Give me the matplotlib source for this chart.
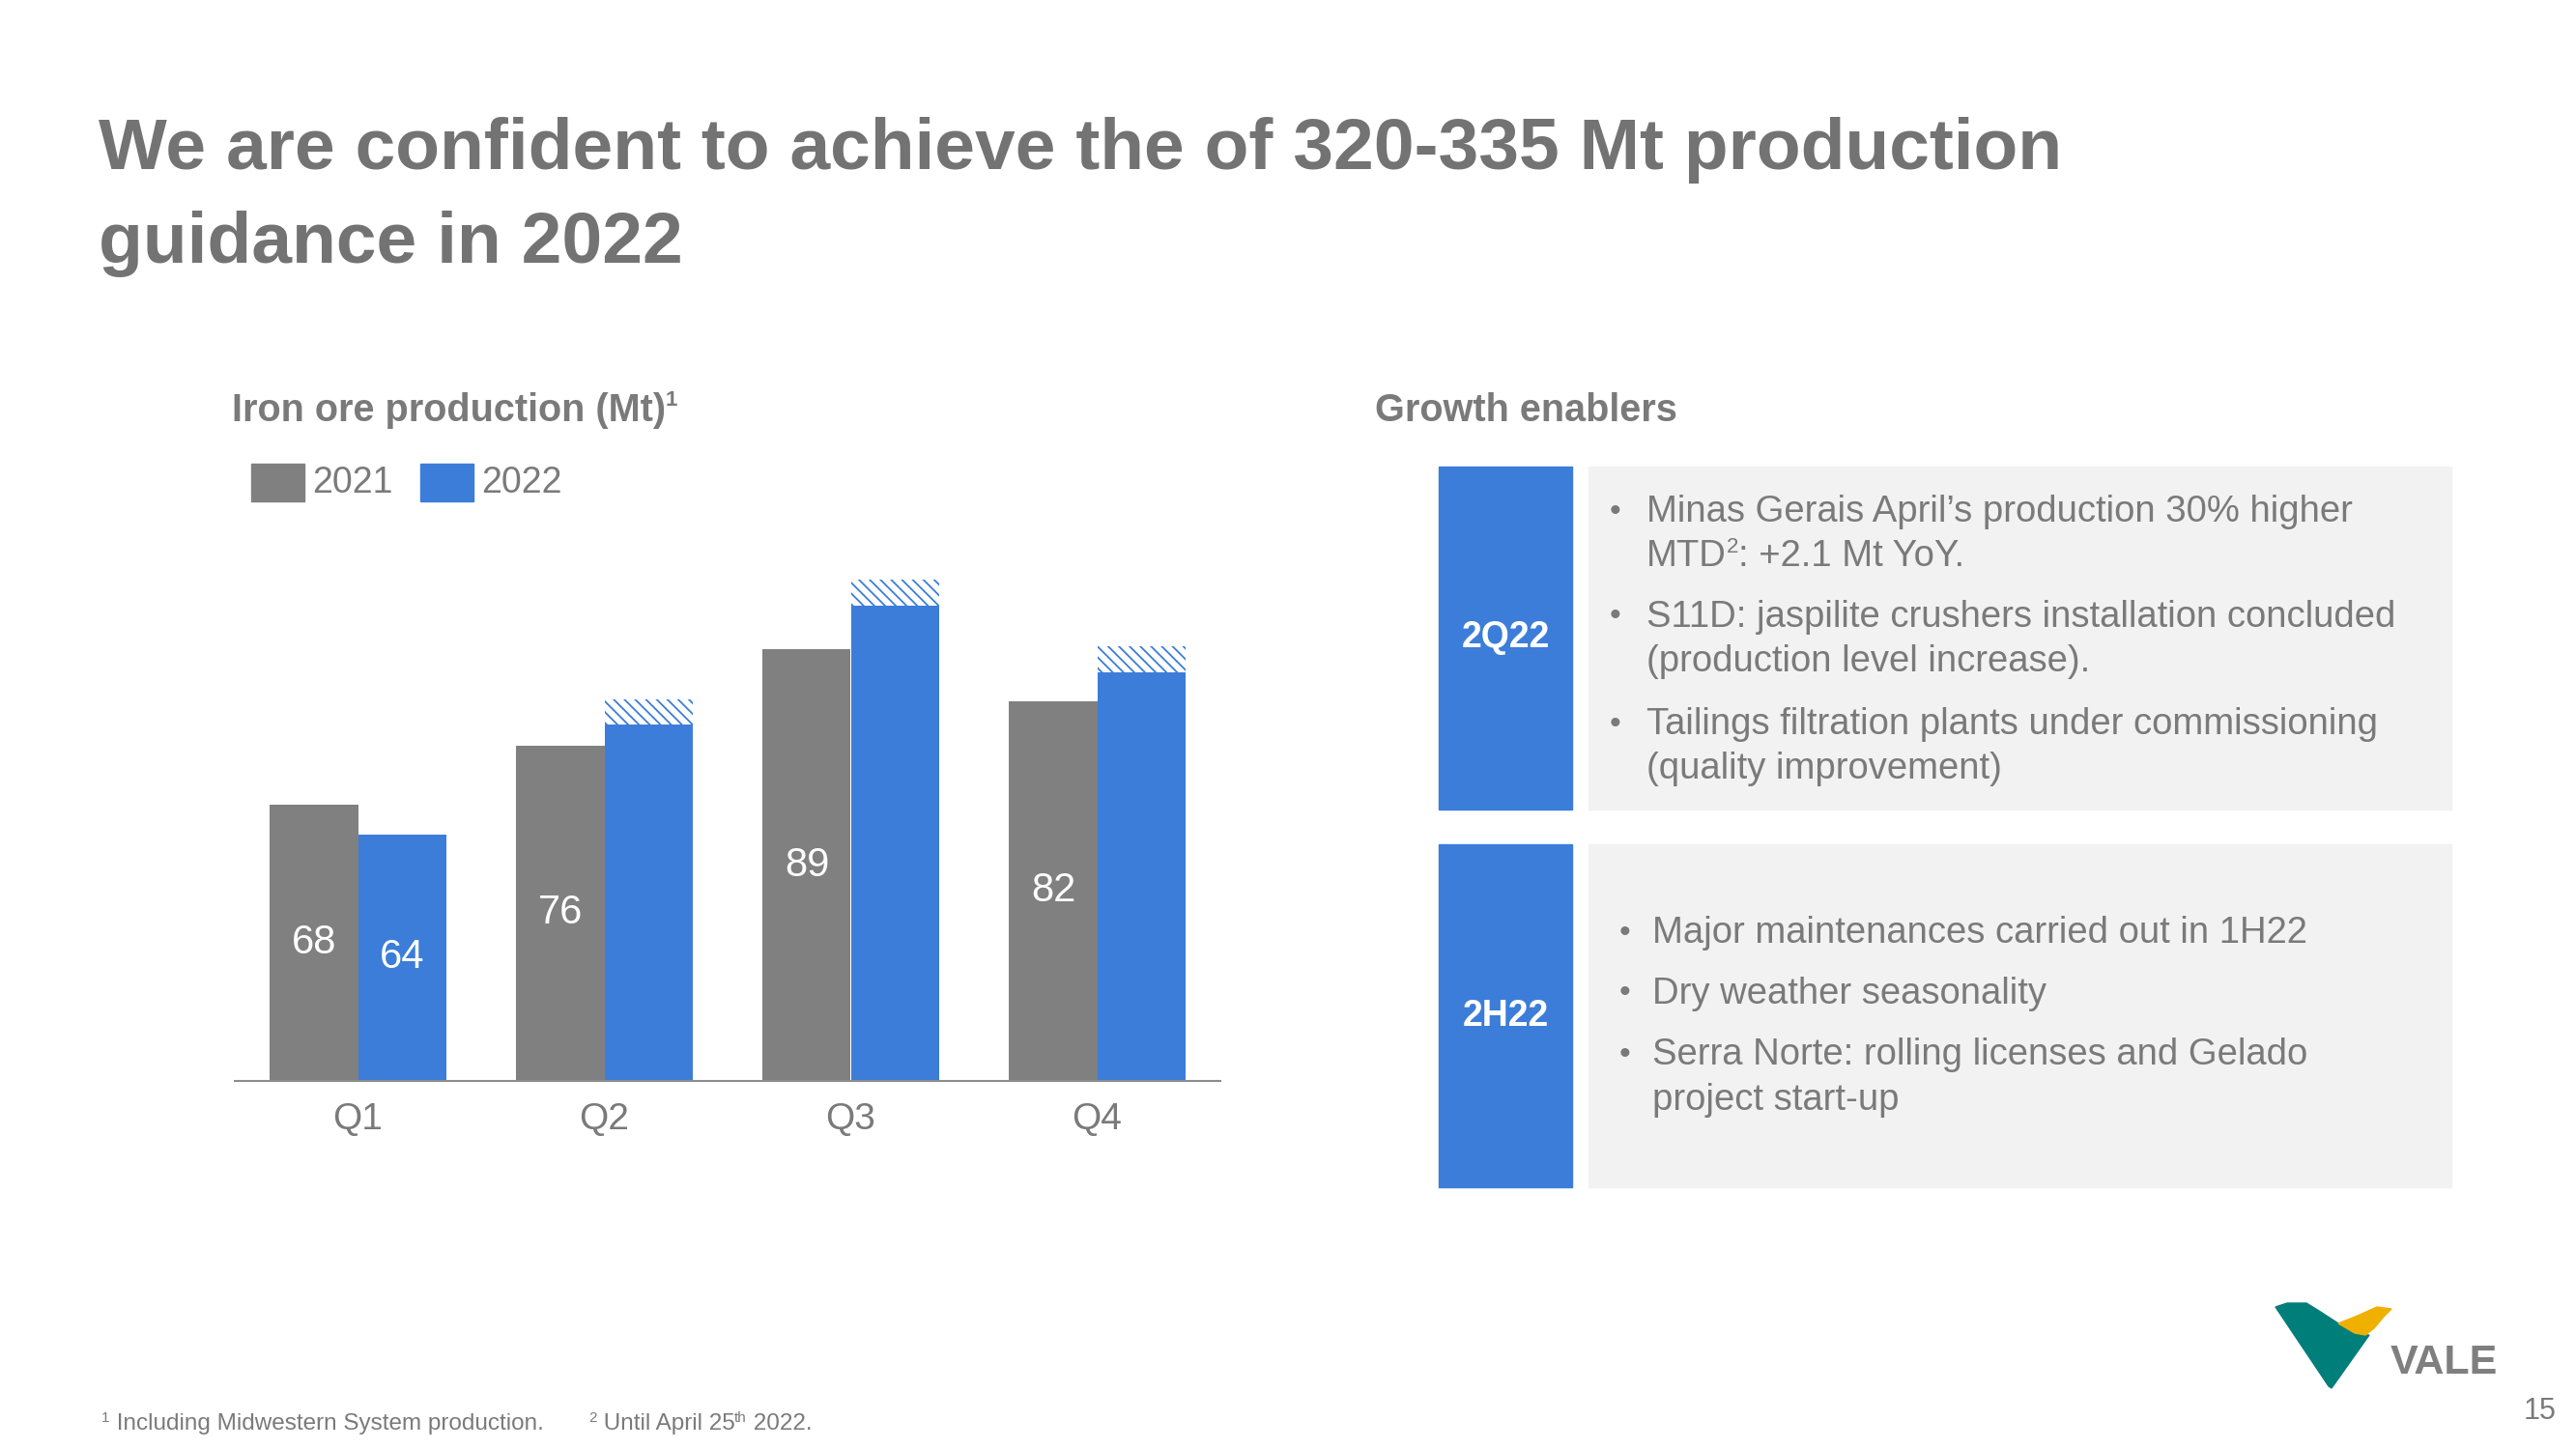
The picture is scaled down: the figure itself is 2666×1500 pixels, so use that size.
import matplotlib
matplotlib.use('Agg')
import matplotlib.pyplot as plt
from matplotlib.patches import Rectangle, Polygon

# chart data
quarters = ['Q1', 'Q2', 'Q3', 'Q4']
prod_2021 = [68, 76, 89, 82]
prod_2022 = [64, 78.8, 94.9, 85.9]
guidance_extra = [0, 3.5, 3.5, 3.5]
labels_2021 = ['68', '76', '89', '82']
labels_2022 = ['64', '', '', '']
years = ['2021', '2022']

bullets_2q22 = [
    ['Minas Gerais April\u2019s production 30% higher', 'MTD'],
    ['S11D: jaspilite crushers installation concluded', '(production level increase).'],
    ['Tailings filtration plants under commissioning', '(quality improvement)'],
]
bullets_2h22 = [
    ['Major maintenances carried out in 1H22'],
    ['Dry weather seasonality'],
    ['Serra Norte: rolling licenses and Gelado', 'project start-up'],
]

GRAY = '#808080'
BLUE = '#3c7dd9'
TXT = '#7a7a7a'
FAM = ['Liberation Sans', 'DejaVu Sans']
plt.rcParams['font.family'] = FAM
plt.rcParams['hatch.linewidth'] = 1.3

fig = plt.figure(figsize=(26.66, 15), dpi=100)
lay = fig.add_axes([0, 0, 1, 1])
lay.set_xlim(0, 2666)
lay.set_ylim(1500, 0)
lay.axis('off')
renderer = fig.canvas.get_renderer()


def run(x, y, parts, va='center'):
    # draw text pieces one after another, returns end x
    for s, size, dy, kw in parts:
        t = lay.text(x, y + dy, s, fontsize=size, va=va, ha='left', **kw)
        bb = t.get_window_extent(renderer)
        x = bb.x1
    return x


# title
lay.text(102, 175, 'We are confident to achieve the of 320-335 Mt production',
         fontsize=54, weight='bold', color='#737373', va='baseline')
lay.text(102, 272, 'guidance in 2022',
         fontsize=54, weight='bold', color='#737373', va='baseline')

# left header + legend
run(240, 425, [('Iron ore production (Mt)', 28.5, 0, dict(weight='bold', color=TXT)),
               ('1', 16, -11, dict(weight='bold', color=TXT))])
lay.add_patch(Rectangle((260, 480), 55, 39, color=GRAY))
lay.text(323, 500, years[0], fontsize=27, color=TXT, va='center')
lay.add_patch(Rectangle((435, 480), 55, 39, color=BLUE))
lay.text(498, 500, years[1], fontsize=27, color=TXT, va='center')

# bar chart
ax = fig.add_axes([243 / 2666, (1500 - 1119) / 1500, 1020 / 2666, 531 / 1500])
ax.patch.set_alpha(0)
x = list(range(len(quarters)))
w = 0.357
x1 = [i - w / 2 for i in x]
x2 = [i + w / 2 for i in x]
ax.bar(x1, prod_2021, w, color=GRAY)
ax.bar(x2, prod_2022, w, color=BLUE)
ax.bar(x2, guidance_extra, w, bottom=prod_2022, facecolor='white',
       edgecolor=BLUE, hatch='\\\\\\', linewidth=0)
ax.set_ylim(30.7, 100)
ax.set_xlim(-0.5, 3.5)
for i in x:
    ax.text(x1[i], (30.7 + prod_2021[i]) / 2, labels_2021[i], color='white',
            fontsize=30, ha='center', va='center')
    if labels_2022[i]:
        ax.text(x2[i], (30.7 + prod_2022[i]) / 2, labels_2022[i], color='white',
                fontsize=30, ha='center', va='center')
for s in ['top', 'right', 'left']:
    ax.spines[s].set_visible(False)
ax.spines['bottom'].set_color('#8c8c8c')
ax.spines['bottom'].set_linewidth(1.5)
ax.set_yticks([])
ax.set_xticks(x)
ax.set_xticklabels(quarters, fontsize=28, color=TXT)
ax.tick_params(axis='x', length=0, pad=16)

# right side
lay.text(1423, 425, 'Growth enablers', fontsize=28.5, weight='bold', color=TXT, va='center')
for (y0, y1), tag in [((483, 838), '2Q22'), ((874, 1229), '2H22')]:
    lay.add_patch(Rectangle((1489, y0), 138, y1 - y0, color=BLUE))
    lay.add_patch(Rectangle((1644, y0), 893, y1 - y0, color='#f2f2f2'))
    lay.text(1558, (y0 + y1) / 2, tag, fontsize=27, weight='bold', color='white',
             ha='center', va='center')

ys1 = [[530, 576], [639, 685], [750, 796]]
for lines, ys in zip(bullets_2q22, ys1):
    lay.text(1666, ys[0], '\u2022', fontsize=24, color=TXT, va='center')
    lay.text(1704, ys[0], lines[0], fontsize=27.5, color=TXT, va='center')
    if lines[1] == 'MTD':
        run(1704, ys[1], [('MTD', 27.5, 0, dict(color=TXT)),
                          ('2', 16, -9, dict(color=TXT)),
                          (': +2.1 Mt YoY.', 27.5, 0, dict(color=TXT))])
    else:
        lay.text(1704, ys[1], lines[1], fontsize=27.5, color=TXT, va='center')

ys2 = [[966], [1029], [1092, 1139]]
for lines, ys in zip(bullets_2h22, ys2):
    lay.text(1676, ys[0], '\u2022', fontsize=24, color=TXT, va='center')
    for s, yy in zip(lines, ys):
        lay.text(1710, yy, s, fontsize=27.5, color=TXT, va='center')

# footnotes
run(105, 1474, [('1', 11, -6, dict(color=TXT)),
                (' Including Midwestern System production.', 17.5, 0, dict(color=TXT))])
run(609, 1474, [('2', 11, -6, dict(color=TXT)),
                (' Until April 25', 17.5, 0, dict(color=TXT)),
                ('th', 11, -6, dict(color=TXT)),
                (' 2022.', 17.5, 0, dict(color=TXT))])
lay.text(2646, 1461, '15', fontsize=22, color=TXT, ha='right', va='center')

# logo
teal = [(2355, 1353), (2367, 1349), (2387, 1349), (2400, 1357), (2420, 1370),
        (2433, 1378), (2447, 1382), (2452, 1382), (2413, 1437), (2410, 1435)]
yellow = [(2420, 1370), (2440, 1362), (2460, 1353), (2475, 1355), (2467, 1363),
          (2457, 1375), (2448, 1382), (2437, 1380)]
lay.add_patch(Polygon(teal, closed=True, color='#007e7a'))
lay.add_patch(Polygon(yellow, closed=True, color='#f0b000'))
lay.text(2474, 1411, 'VALE', fontsize=31, weight='bold', color='#7f7f7f', va='center')

fig.savefig('out.png', dpi=100)
